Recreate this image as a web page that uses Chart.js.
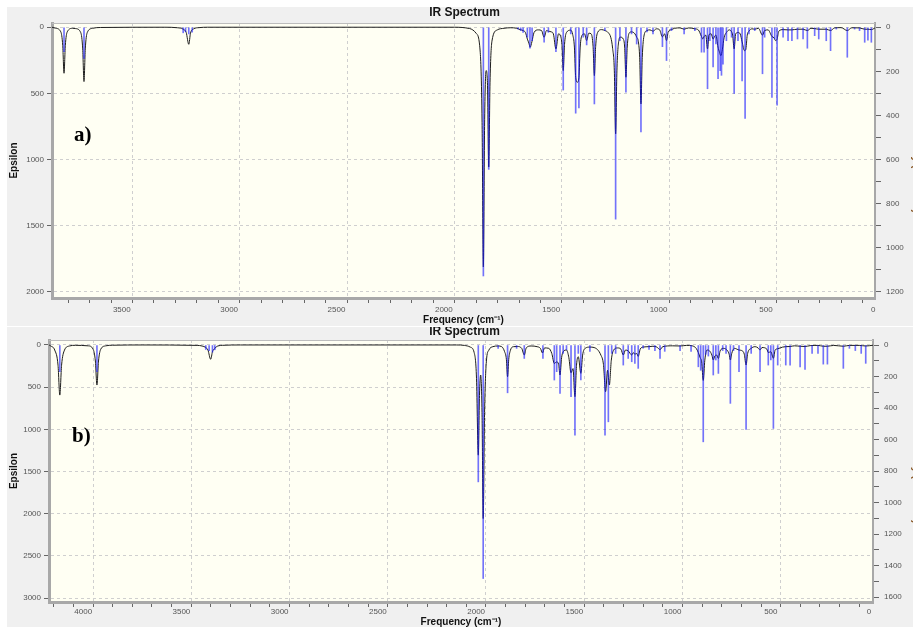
<!DOCTYPE html>
<html>
<head>
<meta charset="utf-8">
<script src="https://cdn.jsdelivr.net/npm/chart.js@4.4.0/dist/chart.umd.min.js"></script>
<style>
  html, body { margin: 0; padding: 0; background: #fff; width: 913px; height: 633px; overflow: hidden; }
  .panel { position: absolute; left: 7px; width: 915px; background: #f0f0f0; }
  #panelA { top: 7px; height: 319px; }
  #panelB { top: 327px; height: 300px; }
</style>
</head>
<body>
<div class="panel" id="panelA"><canvas id="chartA" width="915" height="319"></canvas></div>
<div class="panel" id="panelB"><canvas id="chartB" width="915" height="300"></canvas></div>
<script>
// ============================================================
// IR spectra - two panels (a, b), Epsilon curve + stick intensities
// ============================================================

const titleText = "IR Spectrum";
const xTitle = "Frequency (cm\u207B\u00B9)";
const yTitle = "Epsilon";
const y2Title = "IR Intensity (KM/Mole)";

// ---- panel a ----
const freqTicksA = [0, 100, 200, 300, 400, 500, 600, 700, 800, 900, 1000, 1100, 1200, 1300, 1400, 1500,
  1600, 1700, 1800, 1900, 2000, 2100, 2200, 2300, 2400, 2500, 2600, 2700, 2800, 2900, 3000, 3100,
  3200, 3300, 3400, 3500, 3600, 3700, 3800];
const epsTicksA = [0, 500, 1000, 1500, 2000];
const intTicksA = [0, 100, 200, 300, 400, 500, 600, 700, 800, 900, 1000, 1100, 1200];

// [frequency, epsilon]
const curveA = [
  [3825, 0], [3809, 7], [3784, 35], [3775, 139], [3769, 348], [3763, 139], [3754, 35], [3729, 8],
  [3716, 10], [3691, 41], [3682, 164], [3676, 411], [3670, 164], [3661, 41], [3636, 8], [3600, 2],
  [3300, 0], [3240, 4], [3215, 14], [3200, 40], [3188, 129], [3180, 45], [3165, 12], [3140, 3], [3100, 0],
  [1950, 0], [1880, 10], [1850, 45], [1831, 180], [1822, 720], [1816, 1813], [1810, 700], [1803, 328],
  [1797, 420], [1791, 1057], [1785, 420], [1776, 105], [1751, 20], [1720, 8], [1690, 4],
  [1660, 8], [1645, 18], [1631, 25], [1620, 40], [1611, 90], [1604, 120], [1598, 151], [1590, 110],
  [1580, 40], [1560, 20], [1545, 25], [1533, 76], [1522, 25], [1513, 30], [1500, 35], [1490, 50],
  [1478, 164], [1466, 50], [1456, 70], [1450, 130], [1444, 328], [1438, 130], [1429, 40], [1409, 22],
  [1400, 55], [1392, 150], [1386, 380], [1378, 416], [1371, 380], [1365, 150], [1356, 60], [1345, 50],
  [1335, 101], [1325, 45], [1314, 50], [1305, 145], [1299, 366], [1293, 145], [1284, 40], [1265, 18],
  [1250, 25], [1235, 40], [1222, 80], [1214, 160], [1206, 330], [1200, 807], [1194, 330], [1185, 100],
  [1178, 75], [1164, 90], [1158, 150], [1152, 378], [1146, 150], [1137, 45], [1126, 35], [1110, 50],
  [1102, 75], [1094, 110], [1088, 230], [1082, 580], [1076, 230], [1067, 58], [1054, 25], [1040, 20],
  [1026, 30], [1010, 12], [995, 20], [982, 73], [972, 50], [963, 101], [955, 35], [940, 18], [925, 8],
  [900, 5], [881, 15], [860, 5], [831, 12], [815, 20], [800, 70], [794, 88], [788, 70], [780, 60],
  [772, 164], [765, 55], [755, 50], [746, 90], [738, 65], [733, 60], [723, 150], [716, 190], [710, 215],
  [703, 170], [695, 80], [684, 40], [670, 20], [660, 35], [655, 60], [648, 164], [641, 50], [630, 40],
  [620, 50], [611, 110], [600, 177], [594, 170], [587, 60], [579, 30], [565, 12], [552, 15], [535, 8],
  [516, 60], [506, 25], [490, 20], [472, 70], [462, 80], [455, 101], [448, 90], [440, 30], [420, 18],
  [397, 20], [379, 20], [353, 15], [327, 15], [307, 25], [290, 8], [273, 10], [254, 15], [219, 15],
  [199, 25], [180, 5], [150, 3], [121, 25], [100, 4], [64, 5], [40, 15], [25, 15], [9, 18], [-8, 5]
];

// [frequency, IR intensity]
const sticksA = [
  [3769, 111], [3676, 141], [3214, 25], [3203, 20], [3188, 30], [3172, 22],
  [1816, 1129], [1791, 645], [1654, 8], [1642, 15], [1631, 23], [1611, 45], [1599, 95], [1589, 61],
  [1533, 68], [1513, 23], [1478, 111], [1444, 285], [1409, 30], [1386, 390], [1371, 366], [1351, 45],
  [1335, 80], [1299, 348], [1250, 15], [1200, 871], [1180, 61], [1152, 294], [1126, 30], [1102, 76],
  [1082, 475], [1054, 21], [1026, 30], [982, 88], [963, 151], [940, 15], [881, 30], [831, 15],
  [800, 113], [788, 113], [772, 279], [761, 61], [746, 180], [733, 76], [723, 233], [713, 197],
  [707, 218], [700, 167], [684, 61], [660, 45], [648, 300], [630, 61], [611, 244], [597, 414],
  [579, 30], [552, 15], [516, 211], [506, 45], [472, 318], [459, 53], [448, 354], [420, 45],
  [397, 61], [379, 61], [353, 53], [327, 53], [307, 95], [273, 38], [254, 53], [219, 61],
  [199, 106], [172, 8], [121, 136], [87, 8], [64, 15], [40, 68], [25, 58], [9, 68]
];

// ---- panel b ----
const freqTicksB = [0, 100, 200, 300, 400, 500, 600, 700, 800, 900, 1000, 1100, 1200, 1300, 1400, 1500,
  1600, 1700, 1800, 1900, 2000, 2100, 2200, 2300, 2400, 2500, 2600, 2700, 2800, 2900, 3000, 3100,
  3200, 3300, 3400, 3500, 3600, 3700, 3800, 3900, 4000, 4100];
const epsTicksB = [0, 500, 1000, 1500, 2000, 2500, 3000];
const intTicksB = [0, 100, 200, 300, 400, 500, 600, 700, 800, 900, 1000, 1100, 1200, 1300, 1400, 1500, 1600];

const curveB = [
  [4174, 0], [4165, 12], [4145, 60], [4128, 240], [4119, 594], [4110, 240], [4095, 60], [4070, 12], [4040, 4],
  [3975, 10], [3950, 48], [3938, 190], [3930, 475], [3922, 190], [3910, 48], [3885, 10], [3850, 3], [3700, 0],
  [3420, 5], [3395, 12], [3376, 30], [3365, 60], [3351, 170], [3342, 80], [3330, 40], [3315, 12], [3290, 4], [3200, 0],
  [2100, 0], [2060, 5], [2030, 25], [2010, 90], [1998, 400], [1989, 1306], [1983, 600], [1977, 356],
  [1970, 800], [1964, 2057], [1957, 800], [1948, 200], [1935, 60], [1915, 20], [1888, 12], [1870, 20],
  [1855, 80], [1846, 170], [1840, 376], [1834, 170], [1825, 60], [1810, 20], [1790, 18], [1768, 40],
  [1755, 119], [1745, 35], [1720, 12], [1690, 20], [1673, 40], [1662, 95], [1652, 35], [1630, 40],
  [1615, 100], [1602, 220], [1590, 200], [1580, 230], [1573, 356], [1565, 150], [1557, 80], [1540, 60],
  [1528, 150], [1517, 330], [1507, 280], [1497, 613], [1489, 240], [1480, 140], [1467, 336], [1458, 120],
  [1445, 40], [1421, 25], [1400, 30], [1365, 120], [1352, 230], [1341, 554], [1331, 300], [1322, 475],
  [1312, 180], [1300, 60], [1280, 35], [1263, 50], [1251, 119], [1240, 60], [1226, 70], [1208, 119],
  [1200, 90], [1192, 110], [1183, 100], [1175, 135], [1165, 50], [1150, 25], [1120, 20], [1100, 15],
  [1080, 25], [1064, 55], [1050, 20], [1000, 10], [962, 12], [930, 5], [900, 10], [880, 40], [869, 90],
  [860, 150], [852, 200], [844, 420], [836, 180], [825, 60], [812, 70], [800, 120], [793, 178], [785, 130],
  [775, 120], [767, 160], [758, 70], [740, 40], [720, 70], [712, 110], [706, 178], [699, 100], [685, 40],
  [662, 60], [645, 70], [635, 110], [626, 237], [618, 100], [600, 40], [580, 20], [565, 35], [555, 59],
  [545, 30], [520, 50], [513, 90], [500, 80], [487, 158], [478, 60], [465, 45], [440, 25], [424, 20],
  [402, 18], [380, 10], [351, 15], [326, 18], [300, 8], [260, 5], [233, 15], [212, 15], [180, 5],
  [131, 15], [100, 5], [50, 5], [17, 12], [-20, 3]
];

const sticksB = [
  [4119, 169], [3930, 169], [3376, 28], [3359, 35], [3342, 45], [3330, 30],
  [1989, 868], [1964, 1481], [1888, 21], [1840, 303], [1794, 21], [1755, 85], [1660, 85], [1602, 222],
  [1590, 169], [1573, 307], [1557, 53], [1540, 30], [1517, 328], [1497, 572], [1480, 53], [1467, 222],
  [1421, 40], [1344, 572], [1327, 487], [1310, 53], [1290, 53], [1251, 127], [1226, 85], [1208, 106],
  [1192, 116], [1175, 148], [1150, 20], [1120, 28], [1090, 35], [1064, 85], [1040, 40], [962, 35],
  [906, 40], [869, 138], [857, 160], [844, 614], [832, 60], [818, 70], [793, 190], [780, 95],
  [767, 180], [745, 35], [728, 53], [706, 370], [690, 35], [662, 169], [626, 535], [600, 53],
  [555, 169], [513, 127], [500, 95], [487, 529], [465, 127], [424, 127], [402, 127], [351, 138],
  [326, 155], [290, 53], [260, 53], [233, 121], [212, 121], [131, 148], [100, 21], [70, 35],
  [40, 53], [17, 116]
];

Chart.defaults.font.family = '"Liberation Sans", Arial, sans-serif';
Chart.defaults.color = "#555";

// plot background, top frame line and the panel letter
const plotFrame = {
  id: "plotFrame",
  beforeDraw(chart, args, opts) {
    const { ctx, chartArea: a } = chart;
    ctx.save();
    ctx.fillStyle = "#fffff3";
    ctx.fillRect(a.left, a.top, a.right - a.left, a.bottom - a.top);
    ctx.restore();
  },
  afterDraw(chart, args, opts) {
    const { ctx, chartArea: a } = chart;
    ctx.save();
    ctx.strokeStyle = "#bdbdbd";
    ctx.lineWidth = 1;
    ctx.beginPath();
    ctx.moveTo(a.left, a.top + 0.5);
    ctx.lineTo(a.right, a.top + 0.5);
    ctx.stroke();
    ctx.fillStyle = "#000";
    ctx.font = 'bold 21px "Liberation Serif", "Times New Roman", serif';
    ctx.textBaseline = "middle";
    ctx.fillText(opts.label, opts.x, opts.y);
    ctx.restore();
  }
};

function makeChart(id, p) {
  const fixTicks = (list) => (s) => { s.ticks = list.map((v) => ({ value: v })); };
  return new Chart(document.getElementById(id), {
    type: "line",
    data: {
      datasets: [
        {
          type: "bar",
          data: p.sticks.map((s) => ({ x: s[0], y: s[1] })),
          yAxisID: "y2",
          backgroundColor: "rgba(20, 20, 255, 0.6)",
          borderWidth: 0,
          barThickness: 1,
          grouped: false,
        },
        {
          type: "line",
          data: p.curve.map((c) => ({ x: c[0], y: c[1] })),
          yAxisID: "y",
          borderColor: "#1e1e1e",
          borderWidth: 1,
          pointRadius: 0,
          cubicInterpolationMode: "monotone",
        },
      ],
    },
    options: {
      responsive: false,
      animation: false,
      events: [],
      layout: { padding: 0 },
      plugins: {
        legend: { display: false },
        tooltip: { enabled: false },
        title: {
          display: true,
          text: titleText,
          color: "#151515",
          font: { size: 12, weight: "bold", lineHeight: p.titleLine },
          padding: { top: 0, bottom: p.titlePad },
        },
        plotFrame: { label: p.label, x: p.labelX, y: p.labelY },
      },
      scales: {
        x: {
          type: "linear",
          reverse: true,
          offset: false,
          min: p.xMin,
          max: p.xMax,
          afterBuildTicks: fixTicks(p.xTicks),
          afterFit: (s) => { s.height = p.xHeight; },
          ticks: {
            autoSkip: false,
            maxRotation: 0,
            padding: p.xTickPad,
            font: { size: 8 },
            callback: (v) => (v % 500 === 0 ? String(v) : ""),
          },
          grid: {
            color: (c) => (c.tick && c.tick.value % 500 === 0 ? "#cfcfcf" : "transparent"),
            tickColor: "#666",
            tickLength: 5,
          },
          border: { color: "#a8a8a8", width: 3, dash: [3, 3] },
          title: {
            display: true,
            text: xTitle,
            color: "#111",
            font: { size: 10, weight: "bold", lineHeight: p.xTitleLine },
            padding: 0,
          },
        },
        y: {
          type: "linear",
          position: "left",
          reverse: true,
          min: p.yMin,
          max: p.yMax,
          afterBuildTicks: fixTicks(p.yTicks),
          afterFit: (s) => { s.width = p.yWidth; },
          ticks: { font: { size: 8 }, padding: 3, callback: (v) => String(v) },
          grid: { color: "#cfcfcf", tickColor: "#666", tickLength: 5 },
          border: { color: "#a8a8a8", width: 3, dash: [3, 3] },
          title: {
            display: true,
            text: yTitle,
            color: "#111",
            font: { size: 10, weight: "bold", lineHeight: "12px" },
            padding: { top: 1, bottom: 0 },
          },
        },
        y2: {
          type: "linear",
          position: "right",
          reverse: true,
          min: p.y2Min,
          max: p.y2Max,
          afterBuildTicks: fixTicks(p.y2Ticks),
          afterFit: (s) => { s.width = p.y2Width; },
          ticks: {
            font: { size: 8 },
            padding: 5,
            callback: (v) => (v % 200 === 0 ? String(v) : ""),
          },
          grid: { drawOnChartArea: false, tickColor: "#666", tickLength: 6 },
          border: { color: "#a8a8a8", width: 2 },
          title: {
            display: true,
            text: y2Title,
            color: "#8a5a2a",
            font: { size: 10, weight: "bold", lineHeight: "12px" },
            padding: 0,
          },
        },
      },
    },
    plugins: [plotFrame],
  });
}

makeChart("chartA", {
  curve: curveA, sticks: sticksA,
  xTicks: freqTicksA, yTicks: epsTicksA, y2Ticks: intTicksA,
  xMin: -8, xMax: 3825, yMin: -32, yMax: 2048, y2Min: -19.5, y2Max: 1229,
  yWidth: 45, y2Width: 47, xHeight: 28, xTickPad: 2, xTitleLine: "12px",
  titleLine: "12px", titlePad: 4,
  label: "a)", labelX: 67, labelY: 129,
});

makeChart("chartB", {
  curve: curveB, sticks: sticksB,
  xTicks: freqTicksB, yTicks: epsTicksB, y2Ticks: intTicksB,
  xMin: -20, xMax: 4174, yMin: -59, yMax: 3047, y2Min: -32, y2Max: 1630,
  yWidth: 42, y2Width: 49, xHeight: 25, xTickPad: 0, xTitleLine: "9px",
  titleLine: "10px", titlePad: 3,
  label: "b)", labelX: 65, labelY: 110,
});
</script>
</body>
</html>
